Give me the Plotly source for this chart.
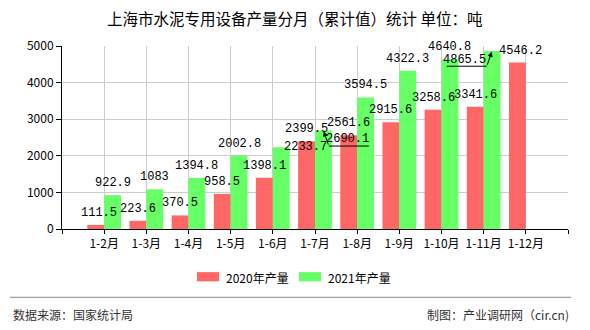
import plotly.graph_objects as go

categories = ["1-2月", "1-3月", "1-4月", "1-5月", "1-6月", "1-7月", "1-8月", "1-9月", "1-10月", "1-11月", "1-12月"]
values_2020 = [111.5, 223.6, 370.5, 958.5, 1398.1, 2399.5, 2561.6, 2915.6, 3258.6, 3341.6, 4546.2]
values_2021 = [922.9, 1083, 1394.8, 2002.8, 2233.7, 2690.1, 3594.5, 4322.3, 4640.8, 4865.5, None]
series_names = ["2020年产量", "2021年产量"]
colors = ["#ff6666", "#66ff66"]
title_text = "上海市水泥专用设备产量分月（累计值）统计 单位：吨"
source_text = "数据来源：国家统计局"
credit_text = "制图：产业调研网（cir.cn)"

xpos = list(range(1, len(categories) + 1))

L, R, T, B = 62, 568, 46, 229.3
W, H = 590, 330


def px_x(p):
    return (p - L) / (R - L)


def px_y(p):
    return (B - p) / (B - T)


fig = go.Figure()
fig.add_trace(go.Bar(x=xpos, y=values_2020, width=0.4, offset=-0.4, name=series_names[0],
                     marker=dict(color=colors[0], line=dict(width=0)), showlegend=False))
fig.add_trace(go.Bar(x=xpos, y=values_2021, width=0.4, offset=0.0, name=series_names[1],
                     marker=dict(color=colors[1], line=dict(width=0)), showlegend=False))

label_font = dict(family="Liberation Mono, DejaVu Sans Mono, monospace", size=12, color="#000")
annotations = []
shapes = []

# label shifts (pixels) for the few labels moved aside in the reference
shift_2020 = {0: (3, 12), 10: (3, 12)}
shift_2021 = {4: (24, 0), 5: (24.5, -8.5), 9: (-27.3, -8.6)}

for i, v in enumerate(values_2020):
    if v is None:
        continue
    dx, dy = shift_2020.get(i, (0, 12))
    annotations.append(dict(x=xpos[i] - 0.2, y=v, text=f"{v:g}", showarrow=False, xshift=dx, yshift=dy,
                            yanchor="middle", xanchor="center", font=label_font))
for i, v in enumerate(values_2021):
    if v is None:
        continue
    dx, dy = shift_2021.get(i, (0, 12))
    annotations.append(dict(x=xpos[i] + 0.2, y=v, text=f"{v:g}", showarrow=False, xshift=dx, yshift=dy,
                            yanchor="middle", xanchor="center", font=label_font))

# leader lines for moved labels (offsets in pixels relative to bar top)
leaders = [
    (5, dict(tail=(5.4, 15.5), line=(5.4, 45.4))),
    (9, dict(tail=(-5.3, 15.3), line=(-45.3, -5.3))),
]
for i, spec in leaders:
    v = values_2021[i]
    tx, ty = spec["tail"]
    annotations.append(dict(x=xpos[i] + 0.2, y=v, text="", showarrow=True, ax=tx, ay=ty,
                            arrowhead=2, arrowsize=1, arrowwidth=1, arrowcolor="#000", standoff=1))
    shapes.append(dict(type="line", xref="x", yref="y", xsizemode="pixel", ysizemode="pixel",
                       xanchor=xpos[i] + 0.2, yanchor=v, x0=spec["line"][0], x1=spec["line"][1],
                       y0=-ty, y1=-ty, line=dict(color="#000", width=1)))

# manual legend
leg = [(197, 219, 224, series_names[0], colors[0]), (299, 321, 326, series_names[1], colors[1])]
for x0, x1, tx, name, col in leg:
    shapes.append(dict(type="rect", xref="paper", yref="paper", x0=px_x(x0), x1=px_x(x1),
                       y0=px_y(281.7), y1=px_y(272.5), fillcolor=col, line=dict(width=0)))
    annotations.append(dict(xref="paper", yref="paper", x=px_x(tx), y=px_y(277.5), text=name,
                            showarrow=False, xanchor="left", yanchor="middle",
                            font=dict(family="Noto Sans CJK SC", size=12, color="#000")))

# footer separator and texts
shapes.append(dict(type="line", xref="paper", yref="paper", x0=px_x(10), x1=px_x(571),
                   y0=px_y(297.7), y1=px_y(297.7), line=dict(color="#888", width=1)))
annotations.append(dict(xref="paper", yref="paper", x=px_x(11), y=px_y(315), text=source_text,
                        showarrow=False, xanchor="left", yanchor="middle",
                        font=dict(family="Noto Sans CJK SC", size=12, color="#333")))
annotations.append(dict(xref="paper", yref="paper", x=px_x(571), y=px_y(315), text=credit_text,
                        showarrow=False, xanchor="right", yanchor="middle",
                        font=dict(family="Noto Sans CJK SC", size=12, color="#333")))

# title
annotations.append(dict(xref="paper", yref="paper", x=px_x(294), y=px_y(18), text=title_text,
                        showarrow=False, xanchor="center", yanchor="middle",
                        font=dict(family="Noto Sans CJK SC", size=15.5, color="#000")))

fig.update_layout(
    width=W, height=H,
    margin=dict(l=L, r=W - R, t=T, b=H - B, pad=0),
    paper_bgcolor="#fff", plot_bgcolor="#fff",
    barmode="overlay",
    showlegend=False,
    annotations=annotations,
    shapes=shapes,
    font=dict(family="Noto Sans CJK SC", size=12, color="#000"),
)
fig.update_xaxes(
    range=[0, len(categories) + 1],
    tickmode="array",
    tickvals=[0] + xpos + [len(categories) + 1],
    ticktext=[""] + categories + [""],
    showgrid=True, gridcolor="#cccccc", gridwidth=1,
    showline=True, linecolor="#000", linewidth=1,
    ticks="outside", ticklen=4, tickcolor="#000",
    tickfont=dict(family="Noto Sans CJK SC", size=12, color="#000"),
    zeroline=False, fixedrange=True,
)
fig.update_yaxes(
    range=[0, 5000], dtick=1000, tick0=0,
    showgrid=True, gridcolor="#cccccc", gridwidth=1,
    showline=True, linecolor="#000", linewidth=1,
    ticks="outside", ticklen=5, tickcolor="#000",
    tickfont=dict(family="Noto Sans CJK SC", size=12, color="#000"),
    zeroline=False, fixedrange=True,
)

fig.write_html("out.html")
